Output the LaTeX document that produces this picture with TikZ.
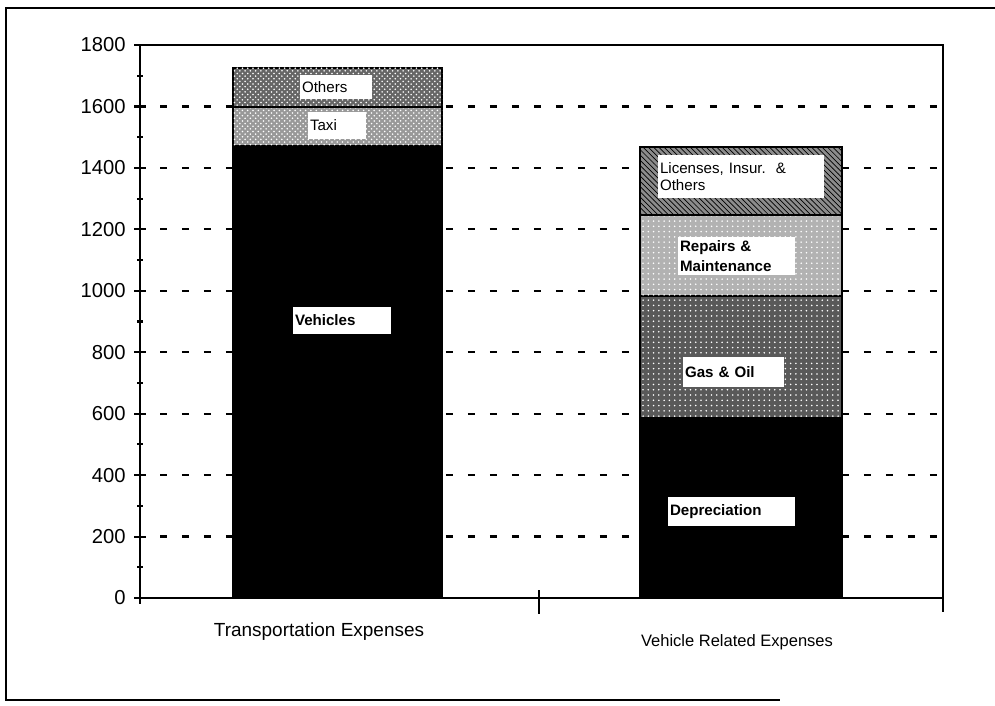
\documentclass[tikz,border=0pt]{standalone}
\usepackage{fontspec}
\setmainfont{Liberation Sans}
\usetikzlibrary{patterns}

\tikzset{
  seg/.style={draw=black, line width=0.8pt},
  tag/.style={fill=white, inner xsep=0.04cm, inner ysep=0pt, align=left, font=\fontsize{8.6}{10}\selectfont},
  ticklbl/.style={anchor=east, inner sep=0pt, font=\fontsize{11.5}{12}\selectfont},
  gridline/.style={line width=1.3pt, dash pattern=on 0.14cm off 0.3cm}
}

\begin{document}
\begin{tikzpicture}[x=0.02cm, y=-0.02cm]
  \useasboundingbox (0,0) rectangle (995,706);
  % page frame
  \draw[line width=1pt] (995,8) -- (6,8) -- (6,700) -- (780,700);

  % dashed grid lines, behind the bars
  \foreach \v in {200,400,...,1600}
    \draw[gridline] (160,{598-0.3072*\v}) -- (940,{598-0.3072*\v});

  % left bar: transportation expenses
  \draw[seg, fill=black] (233,598) rectangle (442,146);
  \draw[seg, fill=black!40] (233,146) rectangle (442,107);
  \fill[pattern=crosshatch dots, pattern color=white] (233,146) rectangle (442,107);
  \draw[seg, fill=black!60] (233,107) rectangle (442,68);
  \fill[pattern=crosshatch dots, pattern color=white] (233,107) rectangle (442,68);

  % right bar: vehicle related expenses
  \draw[seg, fill=black] (640,598) rectangle (842,418);
  \draw[seg, fill=black!65] (640,418) rectangle (842,296);
  \fill[pattern=dots, pattern color=white] (640,418) rectangle (842,296);
  \draw[seg, fill=black!30] (640,296) rectangle (842,215);
  \fill[pattern=dots, pattern color=white] (640,296) rectangle (842,215);
  \draw[seg, fill=black!45] (640,215) rectangle (842,147);
  \fill[pattern=north west lines, pattern color=black] (640,215) rectangle (842,147);

  % segment labels
  \node[tag, text width=1.36cm, minimum height=0.48cm] (others) at (336,87) {Others};
  \node[tag, text width=1.08cm, minimum height=0.54cm] (taxi) at (337,125.5) {Taxi};
  \node[tag, text width=1.88cm, minimum height=0.54cm, font=\fontsize{8.6}{10}\selectfont\bfseries] (vehicles) at (342,320.5) {Vehicles};
  \node[tag, text width=3.24cm, minimum height=0.86cm] (licenses) at (741,176.5) {Licenses, Insur.\ \ \&\\Others};
  \node[tag, text width=2.26cm, minimum height=0.76cm, font=\fontsize{8.6}{11}\selectfont\bfseries] (repairs) at (736.5,256) {Repairs \&\\Maintenance};
  \node[tag, text width=1.94cm, minimum height=0.6cm, font=\fontsize{8.6}{10}\selectfont\bfseries] (gasoil) at (733.5,372) {Gas \& Oil};
  \node[tag, text width=2.46cm, minimum height=0.58cm, font=\fontsize{8.6}{10}\selectfont\bfseries] (deprec) at (731.5,511.5) {Depreciation};

  % plot box and axes
  \draw[line width=1pt] (134,45) -- (943,45) -- (943,612);
  \draw[line width=1.6pt] (140,45) -- (140,604);
  \draw[line width=1.6pt] (140,598) -- (943,598);
  \draw[line width=1.2pt] (539,590) -- (539,614);

  % y ticks and labels
  \foreach \v in {0,200,...,1800} {
    \draw[line width=1.2pt] (134,{598-0.3072*\v}) -- (146,{598-0.3072*\v});
    \node[ticklbl] (y\v) at (126,{598-0.3072*\v}) {\v};
  }
  \foreach \v in {100,300,...,1700}
    \draw[line width=1.2pt] (137,{598-0.3072*\v}) -- (143,{598-0.3072*\v});

  % category labels
  \node[font=\fontsize{10.8}{12}\selectfont] (cat1) at (319,632) {Transportation Expenses};
  \node[font=\fontsize{9.4}{11}\selectfont] (cat2) at (737,642) {Vehicle Related Expenses};
\end{tikzpicture}
\end{document}
